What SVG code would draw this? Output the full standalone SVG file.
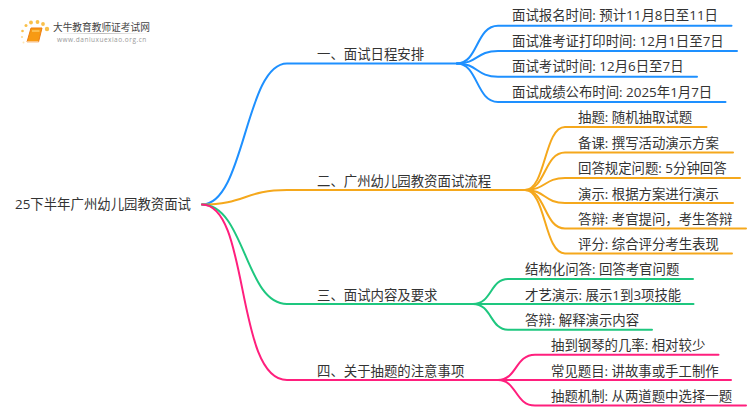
<svg xmlns="http://www.w3.org/2000/svg" width="750" height="410" viewBox="0 0 750 410">
<style>
text{font-family:"Open Sans","Noto Sans CJK SC","Noto Sans",sans-serif;font-size:13.4px;fill:#333}
.c{fill:none;stroke-width:2;stroke-linecap:round}
.b1{stroke:#1e90ff}.b2{stroke:#f5a81c}.b3{stroke:#1ec77f}.b4{stroke:#ff1f7d}
.dot{fill:#f9c04a}
</style>
<defs><linearGradient id="u"><stop offset="0" stop-color="#ccc" stop-opacity="0"/><stop offset=".5" stop-color="#bbb"/><stop offset="1" stop-color="#ccc" stop-opacity="0"/></linearGradient></defs>
<rect width="750" height="410" fill="#fff"/>
<g id="logo">
<circle class="dot" cx="47" cy="29" r="2.2"/><circle class="dot" cx="43" cy="24" r="1.9"/><circle class="dot" cx="37.500" cy="22" r="1.9"/><circle class="dot" cx="31" cy="22.500" r="1.900"/><circle class="dot" cx="26" cy="25.500" r="1.500"/><circle class="dot" cx="22.500" cy="31" r="1.300"/><circle class="dot" cx="22" cy="37" r="1.100" opacity=".6"/><circle class="dot" cx="23.500" cy="42.500" r="1" opacity=".4"/>
<path d="M31 28H42L38.500 42H27Z" fill="#f79a14" stroke="#ee7d10"/><path d="M27 42H38.500" stroke="#fff" stroke-width="1"/><path d="M32 31H39.500" stroke="#ffe08a" stroke-width="1"/>
<text x="53" y="30.500" style="font-size:9.700px;fill:#444">大牛教育教师证考试网</text>
<rect x="55" y="33" width="95" height="1" fill="url(#u)"/>
<text x="57" y="41.500" style="font-size:6.500px;fill:#999;letter-spacing:.5px">www.daniuxuexiao.org.cn</text>
</g>
<g id="connectors">
<path class="c b1" d="M202 204.500C245 204.500 245 63.500 287 63.500H457"/>
<path class="c b2" d="M202 204.500C245 204.500 245 190 287 190H525"/>
<path class="c b3" d="M202 204.500C245 204.500 245 304 287 304H473"/>
<path class="c b4" d="M202 204.500C250 204.500 235 380 287 380H498"/>
<path class="c b1" d="M457 63.500C478 63.500 476 25.700 498 25.700H731.500"/>
<path class="c b1" d="M457 63.500C478 63.500 476 51 498 51H737"/>
<path class="c b1" d="M457 63.500C478 63.500 476 76.700 498 76.700H697"/>
<path class="c b1" d="M457 63.500C478 63.500 476 102 498 102H725.500"/>
<path class="c b2" d="M525 190C546 190 544 127 565 127H706.500"/>
<path class="c b2" d="M525 190C546 190 544 152.500 565 152.500H733"/>
<path class="c b2" d="M525 190C546 190 544 178 565 178H740"/>
<path class="c b2" d="M525 190C546 190 544 203 565 203H733"/>
<path class="c b2" d="M525 190C546 190 544 228.500 565 228.500H746"/>
<path class="c b2" d="M525 190C546 190 544 253.500 565 253.500H732"/>
<path class="c b3" d="M473 304C492 304 490 279 508 279H693"/>
<path class="c b3" d="M473 304H693.500"/>
<path class="c b3" d="M473 304C492 304 490 329.700 508 329.700H652"/>
<path class="c b4" d="M498 380C517 380 515 354.700 535 354.700H718.500"/>
<path class="c b4" d="M498 380H731"/>
<path class="c b4" d="M498 380C517 380 515 405.500 535 405.500H746"/>
</g>
<g id="root"><text x="15" y="209">25下半年广州幼儿园教资面试</text></g>
<g id="n1"><text x="317" y="59">一、面试日程安排</text></g>
<g id="n2"><text x="317" y="186">二、广州幼儿园教资面试流程</text></g>
<g id="n3"><text x="317" y="300">三、面试内容及要求</text></g>
<g id="n4"><text x="317" y="375.500">四、关于抽题的注意事项</text></g>
<g id="n1-1"><text x="512" y="20">面试报名时间: 预计11月8日至11日</text></g>
<g id="n1-2"><text x="512" y="46">面试准考证打印时间: 12月1日至7日</text></g>
<g id="n1-3"><text x="512" y="71">面试考试时间: 12月6日至7日</text></g>
<g id="n1-4"><text x="512" y="97">面试成绩公布时间: 2025年1月7日</text></g>
<g id="n2-1"><text x="578" y="122">抽题: 随机抽取试题</text></g>
<g id="n2-2"><text x="578" y="147.500">备课: 撰写活动演示方案</text></g>
<g id="n2-3"><text x="578" y="173">回答规定问题: 5分钟回答</text></g>
<g id="n2-4"><text x="578" y="198.500">演示: 根据方案进行演示</text></g>
<g id="n2-5"><text x="578" y="224">答辩: 考官提问，考生答辩</text></g>
<g id="n2-6"><text x="578" y="249">评分: 综合评分考生表现</text></g>
<g id="n3-1"><text x="525" y="274">结构化问答: 回答考官问题</text></g>
<g id="n3-2"><text x="525" y="300">才艺演示: 展示1到3项技能</text></g>
<g id="n3-3"><text x="525" y="325">答辩: 解释演示内容</text></g>
<g id="n4-1"><text x="551" y="350">抽到钢琴的几率: 相对较少</text></g>
<g id="n4-2"><text x="551" y="375.500">常见题目: 讲故事或手工制作</text></g>
<g id="n4-3"><text x="551" y="401">抽题机制: 从两道题中选择一题</text></g>
</svg>
